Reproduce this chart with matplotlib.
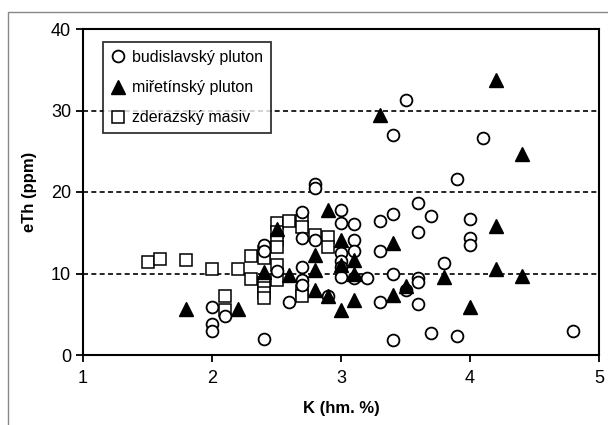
import matplotlib
matplotlib.use("Agg")
from matplotlib import pyplot as plt
from matplotlib.patches import Rectangle

plt.rcParams['font.family'] = ['Liberation Sans Narrow', 'Liberation Sans', 'DejaVu Sans']

# budislavsky pluton (circles)
budK = [2.0, 2.0, 2.0, 2.1, 2.4, 2.4, 2.4, 2.5, 2.6, 2.7, 2.7, 2.7, 2.7, 2.7,
        2.8, 2.8, 2.8, 2.9, 3.0, 3.0, 3.0, 3.0, 3.0, 3.0, 3.1, 3.1, 3.1, 3.1,
        3.2, 3.3, 3.3, 3.3, 3.4, 3.4, 3.4, 3.4, 3.5, 3.5, 3.6, 3.6, 3.6, 3.6,
        3.6, 3.7, 3.7, 3.8, 3.9, 3.9, 4.0, 4.0, 4.0, 4.1, 4.8]
budTh = [5.9, 3.8, 2.9, 4.8, 13.5, 12.8, 2.0, 10.3, 6.5, 17.5, 14.3, 10.8, 9.2, 8.6,
         21.0, 20.5, 14.1, 7.2, 17.8, 16.2, 12.5, 11.5, 10.8, 9.6, 16.1, 14.1, 12.7, 9.4,
         9.4, 16.4, 12.7, 6.5, 27.0, 17.3, 10.0, 1.8, 31.3, 8.0, 18.6, 15.1, 9.4, 9.0,
         6.3, 17.0, 2.7, 11.3, 21.6, 2.3, 16.7, 14.3, 13.5, 26.6, 2.9]

# miretinsky pluton (triangles)
mirK = [1.8, 2.2, 2.4, 2.5, 2.6, 2.8, 2.8, 2.8, 2.9, 2.9, 3.0, 3.0, 3.0, 3.1,
        3.1, 3.1, 3.3, 3.4, 3.4, 3.5, 3.8, 4.0, 4.2, 4.2, 4.2, 4.4, 4.4]
mirTh = [5.7, 5.6, 10.2, 15.5, 9.8, 12.3, 10.4, 8.0, 17.8, 7.2, 14.1, 11.0, 5.5, 11.7,
         9.9, 6.8, 29.5, 13.7, 7.4, 8.5, 9.6, 5.9, 33.7, 15.8, 10.6, 24.7, 9.7]

# zderazsky masiv (squares)
zdeK = [1.5, 1.6, 1.8, 2.0, 2.1, 2.1, 2.2, 2.3, 2.3, 2.4, 2.4, 2.4, 2.4, 2.4,
        2.4, 2.5, 2.5, 2.5, 2.5, 2.5, 2.5, 2.6, 2.7, 2.7, 2.7, 2.7, 2.8, 2.9, 2.9]
zdeTh = [11.4, 11.8, 11.7, 10.6, 7.2, 5.5, 10.6, 12.1, 9.3, 12.6, 11.9, 8.8, 8.2, 7.6,
         7.0, 16.2, 15.1, 14.1, 13.3, 11.0, 9.2, 16.4, 16.4, 15.7, 7.9, 7.3, 14.7, 14.5, 13.3]

fig = plt.figure(figsize=(6.08, 4.25), dpi=100)
ax = fig.add_axes([83/608, 1 - 355/425, (599 - 83)/608, (355 - 29)/425])

for yv in [10, 20, 30]:
    ax.axhline(yv, color='black', linestyle=(0, (3, 2)), linewidth=1.2, zorder=1)

ax.plot(budK, budTh, 'o', markersize=8.5, markerfacecolor='white',
        markeredgecolor='black', markeredgewidth=1.3, label='budislavský pluton', zorder=3)
ax.plot(mirK, mirTh, '^', markersize=9.5, color='black', label='miřetínský pluton', zorder=4)
ax.plot(zdeK, zdeTh, 's', markersize=8.5, markerfacecolor='white',
        markeredgecolor='black', markeredgewidth=1.1, label='zderazský masiv', zorder=2)

ax.set_xlim(1, 5)
ax.set_ylim(0, 40)
ax.set_xticks([1, 2, 3, 4, 5])
ax.set_yticks([0, 10, 20, 30, 40])
ax.tick_params(direction='out', length=5, width=1.3, labelsize=13, colors='black')
ax.tick_params(axis='x', pad=6)
for s in ax.spines.values():
    s.set_linewidth(1.5)

ax.set_xlabel('K (hm. %)', fontsize=12, fontweight='bold', labelpad=10)
ax.set_ylabel('eTh (ppm)', fontsize=12, fontweight='bold', labelpad=10)

leg = ax.legend(loc='upper left', bbox_to_anchor=(0.03, 0.975), fontsize=11.5,
                frameon=True, fancybox=False, edgecolor='black', handlelength=0.8,
                handletextpad=0.5, borderpad=0.5, borderaxespad=0.3,
                labelspacing=0.95, numpoints=1)
leg.get_frame().set_linewidth(1.3)

fig.patches.append(Rectangle((8/608, -0.1), 1.1, 1.1 - 12/425,
                             transform=fig.transFigure, fill=False,
                             edgecolor='#888888', linewidth=1))

fig.savefig('out.png', dpi=100)
